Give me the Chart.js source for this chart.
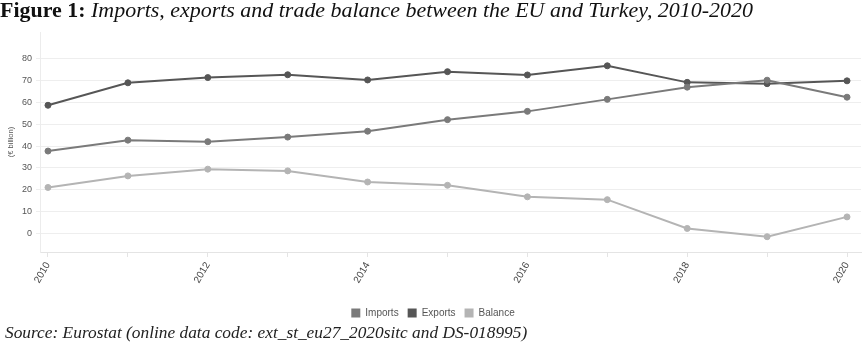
<!DOCTYPE html>
<html>
<head>
<meta charset="utf-8">
<script src="https://cdn.jsdelivr.net/npm/chart.js@4"></script>
<style>
  body { margin: 0; background: #fff; width: 866px; height: 349px; overflow: hidden; position: relative; }
  #title { position: absolute; left: 0; top: -2px; font-family: "Liberation Serif", serif; font-size: 21px; color: #111; white-space: nowrap; transform-origin: 0 0; transform: scaleX(1.045); }
  #title b { font-weight: bold; }
  #title i { font-style: italic; }
  #source { position: absolute; left: 5px; top: 323px; font-family: "Liberation Serif", serif; font-style: italic; font-size: 17px; color: #222; white-space: nowrap; transform-origin: 0 0; transform: scaleX(1.02); }
  #wrap { position: absolute; left: 0; top: 0; width: 866px; height: 349px; }
</style>
</head>
<body>
<div id="wrap"><canvas id="trade-chart" width="866" height="349"></canvas></div>
<div id="title"><b>Figure 1:</b> <i>Imports, exports and trade balance between the EU and Turkey, 2010-2020</i></div>
<div id="source">Source: Eurostat (online data code: ext_st_eu27_2020sitc and DS-018995)</div>
<script>
var years = [2010, 2011, 2012, 2013, 2014, 2015, 2016, 2017, 2018, 2019, 2020];
var imports = [37.7, 42.7, 42.0, 44.1, 46.8, 52.1, 55.9, 61.4, 67.0, 70.2, 62.4];
var exports = [58.7, 69.0, 71.4, 72.7, 70.3, 74.1, 72.6, 76.8, 69.2, 68.6, 69.9];
var balance = [21.0, 26.3, 29.4, 28.6, 23.5, 22.0, 16.7, 15.4, 2.2, -1.6, 7.5];
var yTicks = [0, 10, 20, 30, 40, 50, 60, 70, 80];

function points(values) {
    return years.map(function(y, i) { return {x: y, y: values[i]}; });
}

function series(label, values, colour) {
    return {
        label: label,
        data: points(values),
        borderColor: colour,
        backgroundColor: colour,
        pointBackgroundColor: colour,
        pointBorderColor: colour,
        borderWidth: 2,
        pointRadius: 3,
        pointBorderWidth: 1,
        tension: 0
    };
}

var ctx = document.getElementById('trade-chart').getContext('2d');
var chart = new Chart(ctx, {
    type: 'line',
    data: {
        datasets: [
            series('Imports', imports, '#7a7a7a'),
            series('Exports', exports, '#565656'),
            series('Balance', balance, '#b4b4b4')
        ]
    },
    options: {
        responsive: false,
        animation: false,
        devicePixelRatio: 1,
        layout: { padding: { top: 32, right: 0, bottom: 21, left: 0 } },
        plugins: {
            legend: {
                position: 'bottom',
                labels: {
                    boxWidth: 9,
                    boxHeight: 9,
                    padding: 9,
                    color: '#555',
                    font: { family: 'Liberation Sans', size: 10 },
                    // plain square swatches, no outline
                    generateLabels: function(chart) {
                        var items = Chart.defaults.plugins.legend.labels.generateLabels(chart);
                        items.forEach(function(it) { it.lineWidth = 0; });
                        return items;
                    }
                }
            },
            tooltip: { enabled: false }
        },
        scales: {
            x: {
                type: 'linear',
                min: 2009.9,
                max: 2020.175,
                afterFit: function(scale) { scale.height = 47; },
                border: { color: '#e4e4e4' },
                grid: { drawOnChartArea: false, tickLength: 5, color: '#e4e4e4' },
                ticks: {
                    stepSize: 1,
                    includeBounds: false,
                    autoSkip: false,
                    minRotation: 60,
                    maxRotation: 60,
                    padding: 3,
                    color: '#444',
                    font: { family: 'Liberation Sans', size: 10 },
                    callback: function(v) { return v % 2 === 0 ? String(v) : ''; }
                }
            },
            y: {
                min: -8.6,
                max: 92.3,
                afterFit: function(scale) { scale.width = 40; },
                afterBuildTicks: function(scale) {
                    scale.ticks = yTicks.map(function(v) { return {value: v}; });
                },
                title: {
                    display: true,
                    text: '(€ billion)',
                    color: '#555',
                    padding: { top: 6, bottom: 0 },
                    font: { family: 'Liberation Sans', size: 7.5 }
                },
                border: { color: '#ececec' },
                grid: { color: '#eeeeee', tickLength: 4 },
                ticks: {
                    padding: 4,
                    color: '#555',
                    font: { family: 'Liberation Sans', size: 9 }
                }
            }
        }
    }
});
</script>
</body>
</html>
